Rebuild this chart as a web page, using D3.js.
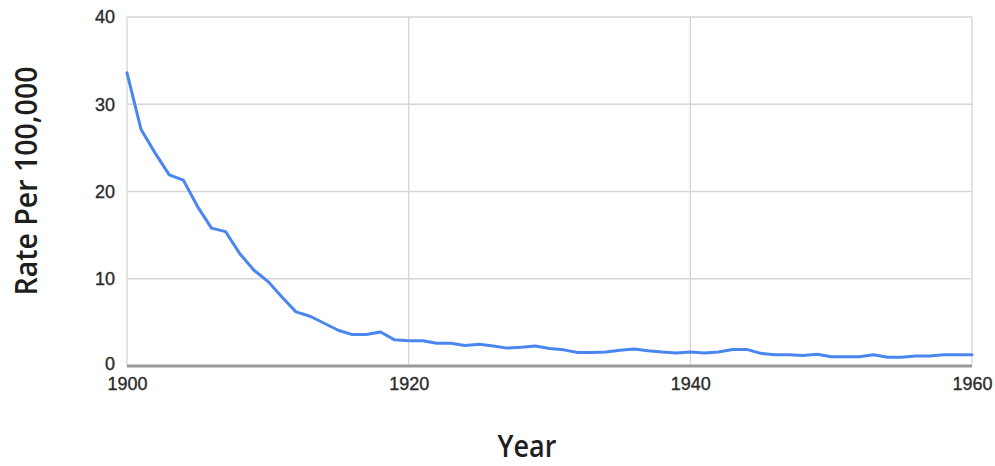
<!DOCTYPE html>
<html>
<head>
<meta charset="utf-8">
<script src="https://cdn.jsdelivr.net/npm/d3@7"></script>
<style>
  html, body { margin: 0; padding: 0; background: #fff; }
  svg { display: block; }
</style>
</head>
<body>
<svg id="chart" width="995" height="466"></svg>
<script>
const years = d3.range(1900, 1961);
const rates = [
  33.6, 27.1, 24.4, 21.9, 21.3, 18.3, 15.8, 15.4, 12.9, 11.0,
  9.7, 7.9, 6.2, 5.7, 4.9, 4.1, 3.6, 3.6, 3.9, 3.0,
  2.9, 2.9, 2.6, 2.6, 2.35, 2.5, 2.3, 2.05, 2.15, 2.3,
  2.0, 1.85, 1.55, 1.55, 1.6, 1.8, 1.95, 1.75, 1.6, 1.5,
  1.6, 1.5, 1.6, 1.9, 1.9, 1.45, 1.3, 1.3, 1.2, 1.35,
  1.07, 1.07, 1.07, 1.3, 1.0, 1.0, 1.15, 1.15, 1.3, 1.3, 1.3
];
const xTicks = [1900, 1920, 1940, 1960];
const yTicks = [0, 10, 20, 30, 40];
const xTitle = "Year";
const yTitle = "Rate Per 100,000";

const data = years.map((yr, i) => ({ year: yr, rate: rates[i] }));

const svg = d3.select("#chart");
const mLeft = 127, mRight = 972, mTop = 17, mBottom = 366;

const x = d3.scaleLinear().domain([1900, 1960]).range([mLeft, mRight]);
const y = d3.scaleLinear().domain([0, 40]).range([mBottom, mTop]);

// gridlines
svg.append("g").selectAll("line").data(yTicks.filter(d => d !== 0)).join("line")
  .attr("x1", mLeft).attr("x2", mRight)
  .attr("y1", d => y(d)).attr("y2", d => y(d))
  .attr("stroke", "#d6d6d6").attr("stroke-width", 1.3);
svg.append("g").selectAll("line").data(xTicks).join("line")
  .attr("x1", d => x(d)).attr("x2", d => x(d))
  .attr("y1", mTop).attr("y2", mBottom)
  .attr("stroke", "#d6d6d6").attr("stroke-width", 1.3);

// y axis labels
const yAxis = d3.axisLeft(y).tickValues(yTicks).tickSize(0).tickPadding(12).tickFormat(d3.format("d"));
const gy = svg.append("g").attr("transform", `translate(${mLeft},0)`).call(yAxis);
gy.select(".domain").remove();
gy.selectAll("text").attr("font-family", "Liberation Sans, Arial, sans-serif")
  .attr("font-size", 18).attr("fill", "#2a2a2a")
  .attr("stroke", "#2a2a2a").attr("stroke-width", 0.35)
  .attr("dy", d => d === 0 ? "0.2em" : "0.32em");

// x axis labels
const xAxis = d3.axisBottom(x).tickValues(xTicks).tickSize(0).tickPadding(11).tickFormat(d3.format("d"));
const gx = svg.append("g").attr("transform", `translate(0,${mBottom})`).call(xAxis);
gx.select(".domain").remove();
gx.selectAll("text").attr("font-family", "Liberation Sans, Arial, sans-serif")
  .attr("font-size", 18).attr("fill", "#2a2a2a")
  .attr("stroke", "#2a2a2a").attr("stroke-width", 0.35);

// baseline
svg.append("line")
  .attr("x1", mLeft).attr("x2", mRight)
  .attr("y1", y(0)).attr("y2", y(0))
  .attr("stroke", "#9a9a9a").attr("stroke-width", 3);

// line
const line = d3.line().x(d => x(d.year)).y(d => y(d.rate));
svg.append("path").datum(data)
  .attr("d", line)
  .attr("fill", "none")
  .attr("stroke", "#4a86f0")
  .attr("stroke-width", 3)
  .attr("stroke-linejoin", "round")
  .attr("stroke-linecap", "round");

// axis titles
svg.append("text")
  .attr("transform", "translate(527,457) scale(0.9,1)")
  .attr("text-anchor", "middle")
  .attr("font-family", "Open Sans, sans-serif")
  .attr("font-weight", 600)
  .attr("font-size", 30)
  .attr("fill", "#1e1e1e")
  .text(xTitle);

svg.append("text")
  .attr("transform", "translate(37,181) rotate(-90) scale(0.92,1)")
  .attr("text-anchor", "middle")
  .attr("font-family", "Open Sans, sans-serif")
  .attr("font-weight", 600)
  .attr("font-size", 31)
  .attr("fill", "#1e1e1e")
  .text(yTitle);
</script>
</body>
</html>
